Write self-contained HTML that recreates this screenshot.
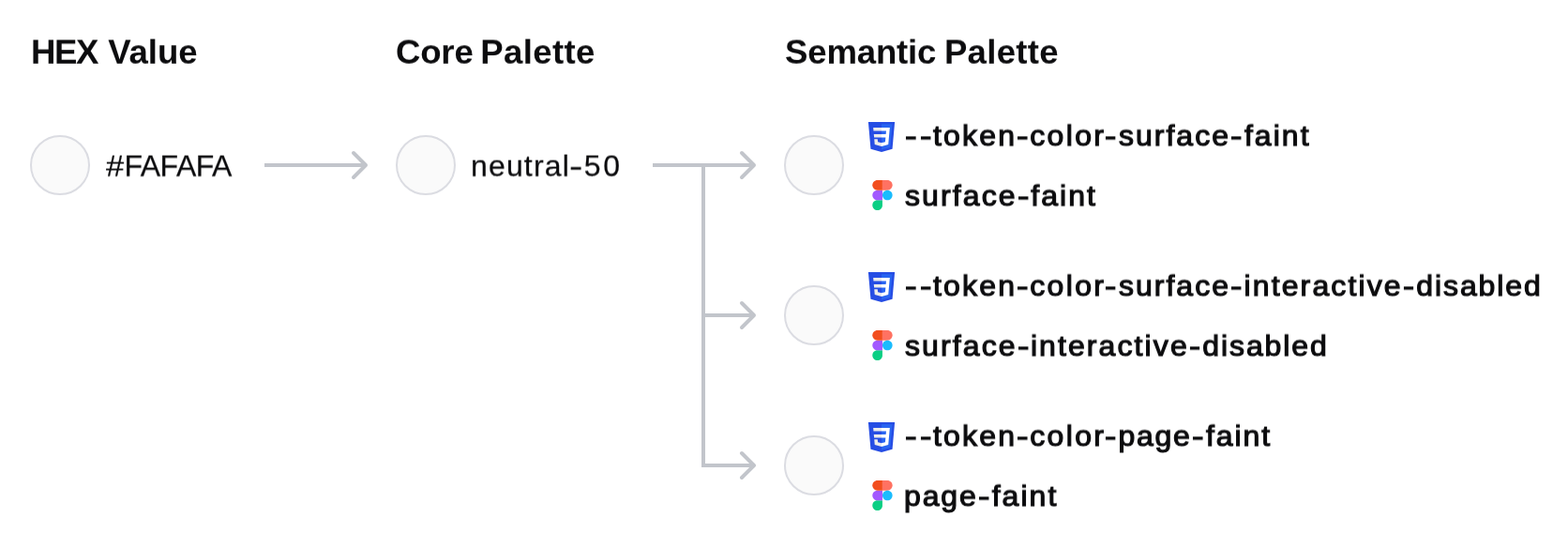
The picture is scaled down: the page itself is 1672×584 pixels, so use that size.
<!DOCTYPE html>
<html lang="en">
<head>
<meta charset="utf-8">
<title>Color token mapping</title>
<style>
  html, body { margin: 0; padding: 0; background: #ffffff; }
  body { width: 1672px; height: 584px; position: relative; overflow: hidden;
         font-family: "Liberation Sans", sans-serif; color: #0c0c0e; }
  .t { position: absolute; white-space: nowrap; line-height: 1; margin: 0; padding: 0; will-change: transform; }
  .h { font-size: 36.6px; font-weight: 700; transform: scaleY(0.9692); transform-origin: 0 20.2px; }
  .v { font-size: 32px; font-weight: 400; -webkit-text-stroke: 0.25px #0c0c0e; transform: scaleY(0.999); transform-origin: 0 -380px; }
  .m { font-size: 32px; font-weight: 400; -webkit-text-stroke: 1.2px #0c0c0e; transform: scaleY(0.978); transform-origin: 0 33.9px; }
  .sw { position: absolute; box-sizing: border-box; width: 64px; height: 64px; border-radius: 50%;
        background: #fafafa; border: 2px solid #dbdce2; }
  svg { position: absolute; }
</style>
</head>
<body>
<div class="sw" style="left:32px; top:144px;"></div>
<div class="sw" style="left:422px; top:144px;"></div>
<div class="sw" style="left:836px; top:144px;"></div>
<div class="sw" style="left:836px; top:304px;"></div>
<div class="sw" style="left:836px; top:464px;"></div>

<h2 class="t h" id="h1" style="left:32.55px;top:38.01px;"><span style="letter-spacing:-1.37px;">HEX</span> <span style="letter-spacing:-0.09px;margin-left:1.03px;">Value</span></h2>
<h2 class="t h" id="h2" style="left:422.20px;top:38.01px;"><span style="letter-spacing:-0.20px;">Core</span> <span style="letter-spacing:0.37px;margin-left:-2.57px;">Palette</span></h2>
<h2 class="t h" id="h3" style="left:836.65px;top:38.01px;"><span style="letter-spacing:-0.17px;">Semantic</span> <span style="letter-spacing:0.29px;margin-left:-1.52px;">Palette</span></h2>
<div class="t v" id="v1" style="left:112.68px;top:160.61px;"><span style="display:inline-block;transform-origin:0 50%;transform:scaleX(1.076);">#</span><span style="letter-spacing:-0.47px;margin-left:1.62px;">FAFAFA</span></div>
<div class="t v" id="v2" style="left:502.20px;top:160.61px;"><span style="letter-spacing:1.16px;">neutral</span><span style="display:inline-block;transform-origin:0 50%;transform:scaleX(1.340);margin-left:-0.71px;">-</span><span style="letter-spacing:2.69px;margin-left:4.92px;">50</span></div>
<div class="t m" id="c1" style="left:964.92px;top:128.01px;"><span style="display:inline-block;transform-origin:0 50%;transform:scaleX(1.187);">-</span><span style="display:inline-block;transform-origin:0 50%;transform:scaleX(1.165);margin-left:5.16px;">-</span><span style="letter-spacing:2.15px;margin-left:3.62px;">token</span><span style="display:inline-block;transform-origin:0 50%;transform:scaleX(1.176);margin-left:-0.29px;">-</span><span style="letter-spacing:2.38px;margin-left:3.65px;">color</span><span style="display:inline-block;transform-origin:0 50%;transform:scaleX(1.154);margin-left:-1.66px;">-</span><span style="letter-spacing:2.00px;margin-left:4.60px;">surface</span><span style="display:inline-block;transform-origin:0 50%;transform:scaleX(1.165);margin-left:0.42px;">-</span><span style="letter-spacing:2.03px;margin-left:3.95px;">faint</span></div>
<div class="t m" id="f1" style="left:965.01px;top:192.01px;"><span style="letter-spacing:2.10px;">surface</span><span style="display:inline-block;transform-origin:0 50%;transform:scaleX(1.165);margin-left:0.12px;">-</span><span style="letter-spacing:2.00px;margin-left:3.95px;">faint</span></div>
<div class="t m" id="c2" style="left:964.92px;top:288.01px;"><span style="display:inline-block;transform-origin:0 50%;transform:scaleX(1.187);">-</span><span style="display:inline-block;transform-origin:0 50%;transform:scaleX(1.165);margin-left:5.16px;">-</span><span style="letter-spacing:2.15px;margin-left:3.62px;">token</span><span style="display:inline-block;transform-origin:0 50%;transform:scaleX(1.176);margin-left:-0.29px;">-</span><span style="letter-spacing:2.38px;margin-left:3.65px;">color</span><span style="display:inline-block;transform-origin:0 50%;transform:scaleX(1.154);margin-left:-1.66px;">-</span><span style="letter-spacing:2.00px;margin-left:4.60px;">surface</span><span style="display:inline-block;transform-origin:0 50%;transform:scaleX(1.165);margin-left:0.42px;">-</span><span style="letter-spacing:2.12px;margin-left:3.56px;">interactive</span><span style="display:inline-block;transform-origin:0 50%;transform:scaleX(1.132);margin-left:0.23px;">-</span><span style="letter-spacing:1.90px;margin-left:3.73px;">disabled</span></div>
<div class="t m" id="f2" style="left:965.01px;top:352.01px;"><span style="letter-spacing:2.10px;">surface</span><span style="display:inline-block;transform-origin:0 50%;transform:scaleX(1.165);margin-left:-0.08px;">-</span><span style="letter-spacing:2.10px;margin-left:3.66px;">interactive</span><span style="display:inline-block;transform-origin:0 50%;transform:scaleX(1.132);margin-left:0.05px;">-</span><span style="letter-spacing:1.91px;margin-left:3.73px;">disabled</span></div>
<div class="t m" id="c3" style="left:964.92px;top:448.01px;"><span style="display:inline-block;transform-origin:0 50%;transform:scaleX(1.187);">-</span><span style="display:inline-block;transform-origin:0 50%;transform:scaleX(1.165);margin-left:5.16px;">-</span><span style="letter-spacing:2.15px;margin-left:3.62px;">token</span><span style="display:inline-block;transform-origin:0 50%;transform:scaleX(1.176);margin-left:-0.29px;">-</span><span style="letter-spacing:2.38px;margin-left:3.65px;">color</span><span style="display:inline-block;transform-origin:0 50%;transform:scaleX(1.154);margin-left:-1.66px;">-</span><span style="letter-spacing:1.67px;margin-left:4.23px;">page</span><span style="display:inline-block;transform-origin:0 50%;transform:scaleX(1.176);margin-left:0.45px;">-</span><span style="letter-spacing:1.95px;margin-left:4.36px;">faint</span></div>
<div class="t m" id="f3" style="left:964.44px;top:512.01px;"><span style="letter-spacing:1.83px;">page</span><span style="display:inline-block;transform-origin:0 50%;transform:scaleX(1.165);margin-left:0.29px;">-</span><span style="letter-spacing:2.03px;margin-left:4.25px;">faint</span></div>

<svg style="left:0;top:0" width="1672" height="584" viewBox="0 0 1672 584">
  <g fill="none" stroke="#c2c5cb" stroke-width="4">
    <path d="M282 176H390"/>
    <path d="M696 176H804"/>
    <path d="M750 176V496H804"/>
    <path d="M750 336H804"/>
    <g stroke-linecap="round" stroke-linejoin="round">
      <path d="M377 163L390 176L377 189"/>
      <path d="M791 163L804 176L791 189"/>
      <path d="M791 323L804 336L791 349"/>
      <path d="M791 483L804 496L791 509"/>
    </g>
  </g>
</svg>
<svg class="ic" style="left:924px;top:130px" width="32" height="32" viewBox="0 0 512 512">
<path fill="#264de4" d="M71.357 460.819L30.272 0h451.456l-41.129 460.746L255.724 512z"/>
<path fill="#2965f1" d="M405.388 431.408l35.148-393.730H256v435.146z"/>
<path fill="#ebebeb" d="M124.460 208.590l5.065 56.517H256V208.590zM119.419 150.715H256V94.197H114.281zM256 355.372l-.248.066-62.944-16.996-4.023-45.076h-56.736l7.919 88.741 115.772 32.140.260-.073z"/>
<path fill="#ffffff" d="M255.805 208.590v56.517H325.400l-6.560 73.299-63.035 17.013v58.800l115.864-32.112.850-9.549 13.280-148.792 1.380-15.176 10.203-114.393H255.805v56.518h79.639L330.300 208.590z"/>
</svg>
<svg class="ic" style="left:929px;top:191px" width="24" height="34" viewBox="0 0 24 34">
<g transform="translate(1.30 1.00) scale(0.106667)">
<path fill="#0acf83" d="M50 300c27.600 0 50-22.400 50-50v-50H50c-27.600 0-50 22.400-50 50s22.400 50 50 50z"/>
<path fill="#a259ff" d="M0 150c0-27.600 22.400-50 50-50h50v100H50c-27.600 0-50-22.400-50-50z"/>
<path fill="#f24e1e" d="M0 50C0 22.400 22.400 0 50 0h50v100H50C22.400 100 0 77.600 0 50z"/>
<path fill="#ff7262" d="M100 0h50c27.600 0 50 22.400 50 50s-22.400 50-50 50h-50V0z"/>
<path fill="#1abcfe" d="M200 150c0 27.600-22.400 50-50 50s-50-22.400-50-50 22.400-50 50-50 50 22.400 50 50z"/>
</g>
</svg>
<svg class="ic" style="left:924px;top:290px" width="32" height="32" viewBox="0 0 512 512">
<path fill="#264de4" d="M71.357 460.819L30.272 0h451.456l-41.129 460.746L255.724 512z"/>
<path fill="#2965f1" d="M405.388 431.408l35.148-393.730H256v435.146z"/>
<path fill="#ebebeb" d="M124.460 208.590l5.065 56.517H256V208.590zM119.419 150.715H256V94.197H114.281zM256 355.372l-.248.066-62.944-16.996-4.023-45.076h-56.736l7.919 88.741 115.772 32.140.260-.073z"/>
<path fill="#ffffff" d="M255.805 208.590v56.517H325.400l-6.560 73.299-63.035 17.013v58.800l115.864-32.112.850-9.549 13.280-148.792 1.380-15.176 10.203-114.393H255.805v56.518h79.639L330.300 208.590z"/>
</svg>
<svg class="ic" style="left:929px;top:351px" width="24" height="34" viewBox="0 0 24 34">
<g transform="translate(1.30 1.00) scale(0.106667)">
<path fill="#0acf83" d="M50 300c27.600 0 50-22.400 50-50v-50H50c-27.600 0-50 22.400-50 50s22.400 50 50 50z"/>
<path fill="#a259ff" d="M0 150c0-27.600 22.400-50 50-50h50v100H50c-27.600 0-50-22.400-50-50z"/>
<path fill="#f24e1e" d="M0 50C0 22.400 22.400 0 50 0h50v100H50C22.400 100 0 77.600 0 50z"/>
<path fill="#ff7262" d="M100 0h50c27.600 0 50 22.400 50 50s-22.400 50-50 50h-50V0z"/>
<path fill="#1abcfe" d="M200 150c0 27.600-22.400 50-50 50s-50-22.400-50-50 22.400-50 50-50 50 22.400 50 50z"/>
</g>
</svg>
<svg class="ic" style="left:924px;top:450px" width="32" height="32" viewBox="0 0 512 512">
<path fill="#264de4" d="M71.357 460.819L30.272 0h451.456l-41.129 460.746L255.724 512z"/>
<path fill="#2965f1" d="M405.388 431.408l35.148-393.730H256v435.146z"/>
<path fill="#ebebeb" d="M124.460 208.590l5.065 56.517H256V208.590zM119.419 150.715H256V94.197H114.281zM256 355.372l-.248.066-62.944-16.996-4.023-45.076h-56.736l7.919 88.741 115.772 32.140.260-.073z"/>
<path fill="#ffffff" d="M255.805 208.590v56.517H325.400l-6.560 73.299-63.035 17.013v58.800l115.864-32.112.850-9.549 13.280-148.792 1.380-15.176 10.203-114.393H255.805v56.518h79.639L330.300 208.590z"/>
</svg>
<svg class="ic" style="left:929px;top:511px" width="24" height="34" viewBox="0 0 24 34">
<g transform="translate(1.30 1.00) scale(0.106667)">
<path fill="#0acf83" d="M50 300c27.600 0 50-22.400 50-50v-50H50c-27.600 0-50 22.400-50 50s22.400 50 50 50z"/>
<path fill="#a259ff" d="M0 150c0-27.600 22.400-50 50-50h50v100H50c-27.600 0-50-22.400-50-50z"/>
<path fill="#f24e1e" d="M0 50C0 22.400 22.400 0 50 0h50v100H50C22.400 100 0 77.600 0 50z"/>
<path fill="#ff7262" d="M100 0h50c27.600 0 50 22.400 50 50s-22.400 50-50 50h-50V0z"/>
<path fill="#1abcfe" d="M200 150c0 27.600-22.400 50-50 50s-50-22.400-50-50 22.400-50 50-50 50 22.400 50 50z"/>
</g>
</svg>
</body>
</html>
